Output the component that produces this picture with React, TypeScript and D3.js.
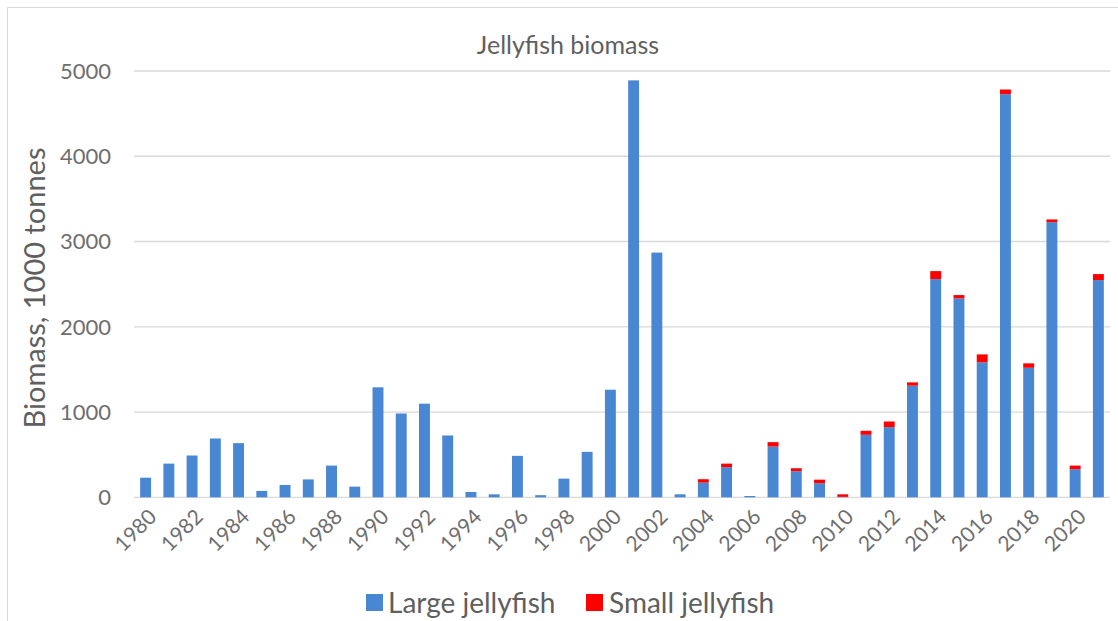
import React from "react";
import * as d3 from "d3";

const years: number[] = [
  1980, 1981, 1982, 1983, 1984, 1985, 1986, 1987, 1988, 1989,
  1990, 1991, 1992, 1993, 1994, 1995, 1996, 1997, 1998, 1999,
  2000, 2001, 2002, 2003, 2004, 2005, 2006, 2007, 2008, 2009,
  2010, 2011, 2012, 2013, 2014, 2015, 2016, 2017, 2018, 2019,
  2020, 2021,
];

const largeJellyfish: number[] = [
  230, 395, 490, 690, 635, 75, 145, 210, 372, 125,
  1290, 983, 1098, 725, 62, 35, 486, 25, 219, 533,
  1262, 4890, 2870, 35, 172, 353, 15, 595, 306, 165,
  5, 733, 823, 1309, 2559, 2333, 1583, 4728, 1519, 3227,
  329, 2548,
];

const smallJellyfish: number[] = [
  0, 0, 0, 0, 0, 0, 0, 0, 0, 0,
  0, 0, 0, 0, 0, 0, 0, 0, 0, 0,
  0, 0, 0, 0, 40, 42, 0, 52, 35, 42,
  30, 47, 66, 39, 94, 39, 93, 55, 52, 32,
  43, 70,
];

const yTicks: number[] = [0, 1000, 2000, 3000, 4000, 5000];
const seriesNames: string[] = ["Large jellyfish", "Small jellyfish"];
const seriesColors: string[] = ["#4a87d2", "#ff0000"];
const title = "Jellyfish biomass";
const yTitle = "Biomass, 1000 tonnes";

const W = 1118;
const H = 621;
const FONT = "Lato, 'Open Sans', sans-serif";
const TEXT = "#5f5f5f";
const TICK_TEXT = "#6e6e6e";

export default function App() {
  const rows = years.map((y, i) => ({
    year: String(y),
    large: largeJellyfish[i],
    small: smallJellyfish[i],
  }));
  const keys = ["large", "small"];
  const stacked = d3.stack<any>().keys(keys)(rows);

  const x = d3
    .scaleBand<string>()
    .domain(years.map(String))
    .range([134, 1110])
    .paddingInner(0.53)
    .paddingOuter(0.265);
  const y = d3.scaleLinear().domain([0, 5000]).range([497.3, 71]);

  const labelYears = years.filter((yr) => (yr - 1980) % 2 === 0);

  return (
    <svg
      width={W}
      height={H}
      style={{ position: "absolute", left: 0, top: 0, background: "#ffffff" }}
      fontFamily={FONT}
    >
      <rect x={7.5} y={7.5} width={W} height={H} fill="#ffffff" stroke="#d9d9d9" />
      {yTicks.map((t) => (
        <line
          key={"g" + t}
          x1={134}
          x2={1110}
          y1={y(t)}
          y2={y(t)}
          stroke="#d9d9d9"
          strokeWidth={1.3}
        />
      ))}
      {yTicks.map((t) => (
        <text
          key={"t" + t}
          x={111}
          y={y(t)}
          dy="0.36em"
          textAnchor="end"
          fontSize={22}
          fill={TICK_TEXT}
        >
          {t}
        </text>
      ))}
      {stacked.map((s, si) => (
        <g key={s.key} fill={seriesColors[si]}>
          {s.map((d: any) => {
            const h = y(d[0]) - y(d[1]);
            if (h <= 0) return null;
            return (
              <rect
                key={d.data.year}
                x={x(d.data.year)}
                y={y(d[1])}
                width={x.bandwidth()}
                height={h}
              />
            );
          })}
        </g>
      ))}
      {labelYears.map((yr) => {
        const cx = (x(String(yr)) as number) + x.bandwidth() / 2;
        return (
          <text
            key={"x" + yr}
            transform={`translate(${cx + 7},${513}) rotate(-45)`}
            textAnchor="end"
            dy="0.35em"
            fontSize={21}
            fill={TICK_TEXT}
          >
            {yr}
          </text>
        );
      })}
      <text x={568} y={45} dy="0.35em" textAnchor="middle" fontSize={25} fill={TEXT}>
        {title}
      </text>
      <text
        transform={`translate(35,${288}) rotate(-90)`}
        textAnchor="middle"
        dy="0.35em"
        fontSize={29}
        fill={TEXT}
      >
        {yTitle}
      </text>
      <rect x={366} y={594} width={17} height={17} fill={seriesColors[0]} />
      <text x={388} y={603} dy="0.35em" fontSize={28} fill={TEXT}>
        {seriesNames[0]}
      </text>
      <rect x={586} y={594} width={17} height={17} fill={seriesColors[1]} />
      <text x={609} y={603} dy="0.35em" fontSize={28} fill={TEXT}>
        {seriesNames[1]}
      </text>
    </svg>
  );
}
